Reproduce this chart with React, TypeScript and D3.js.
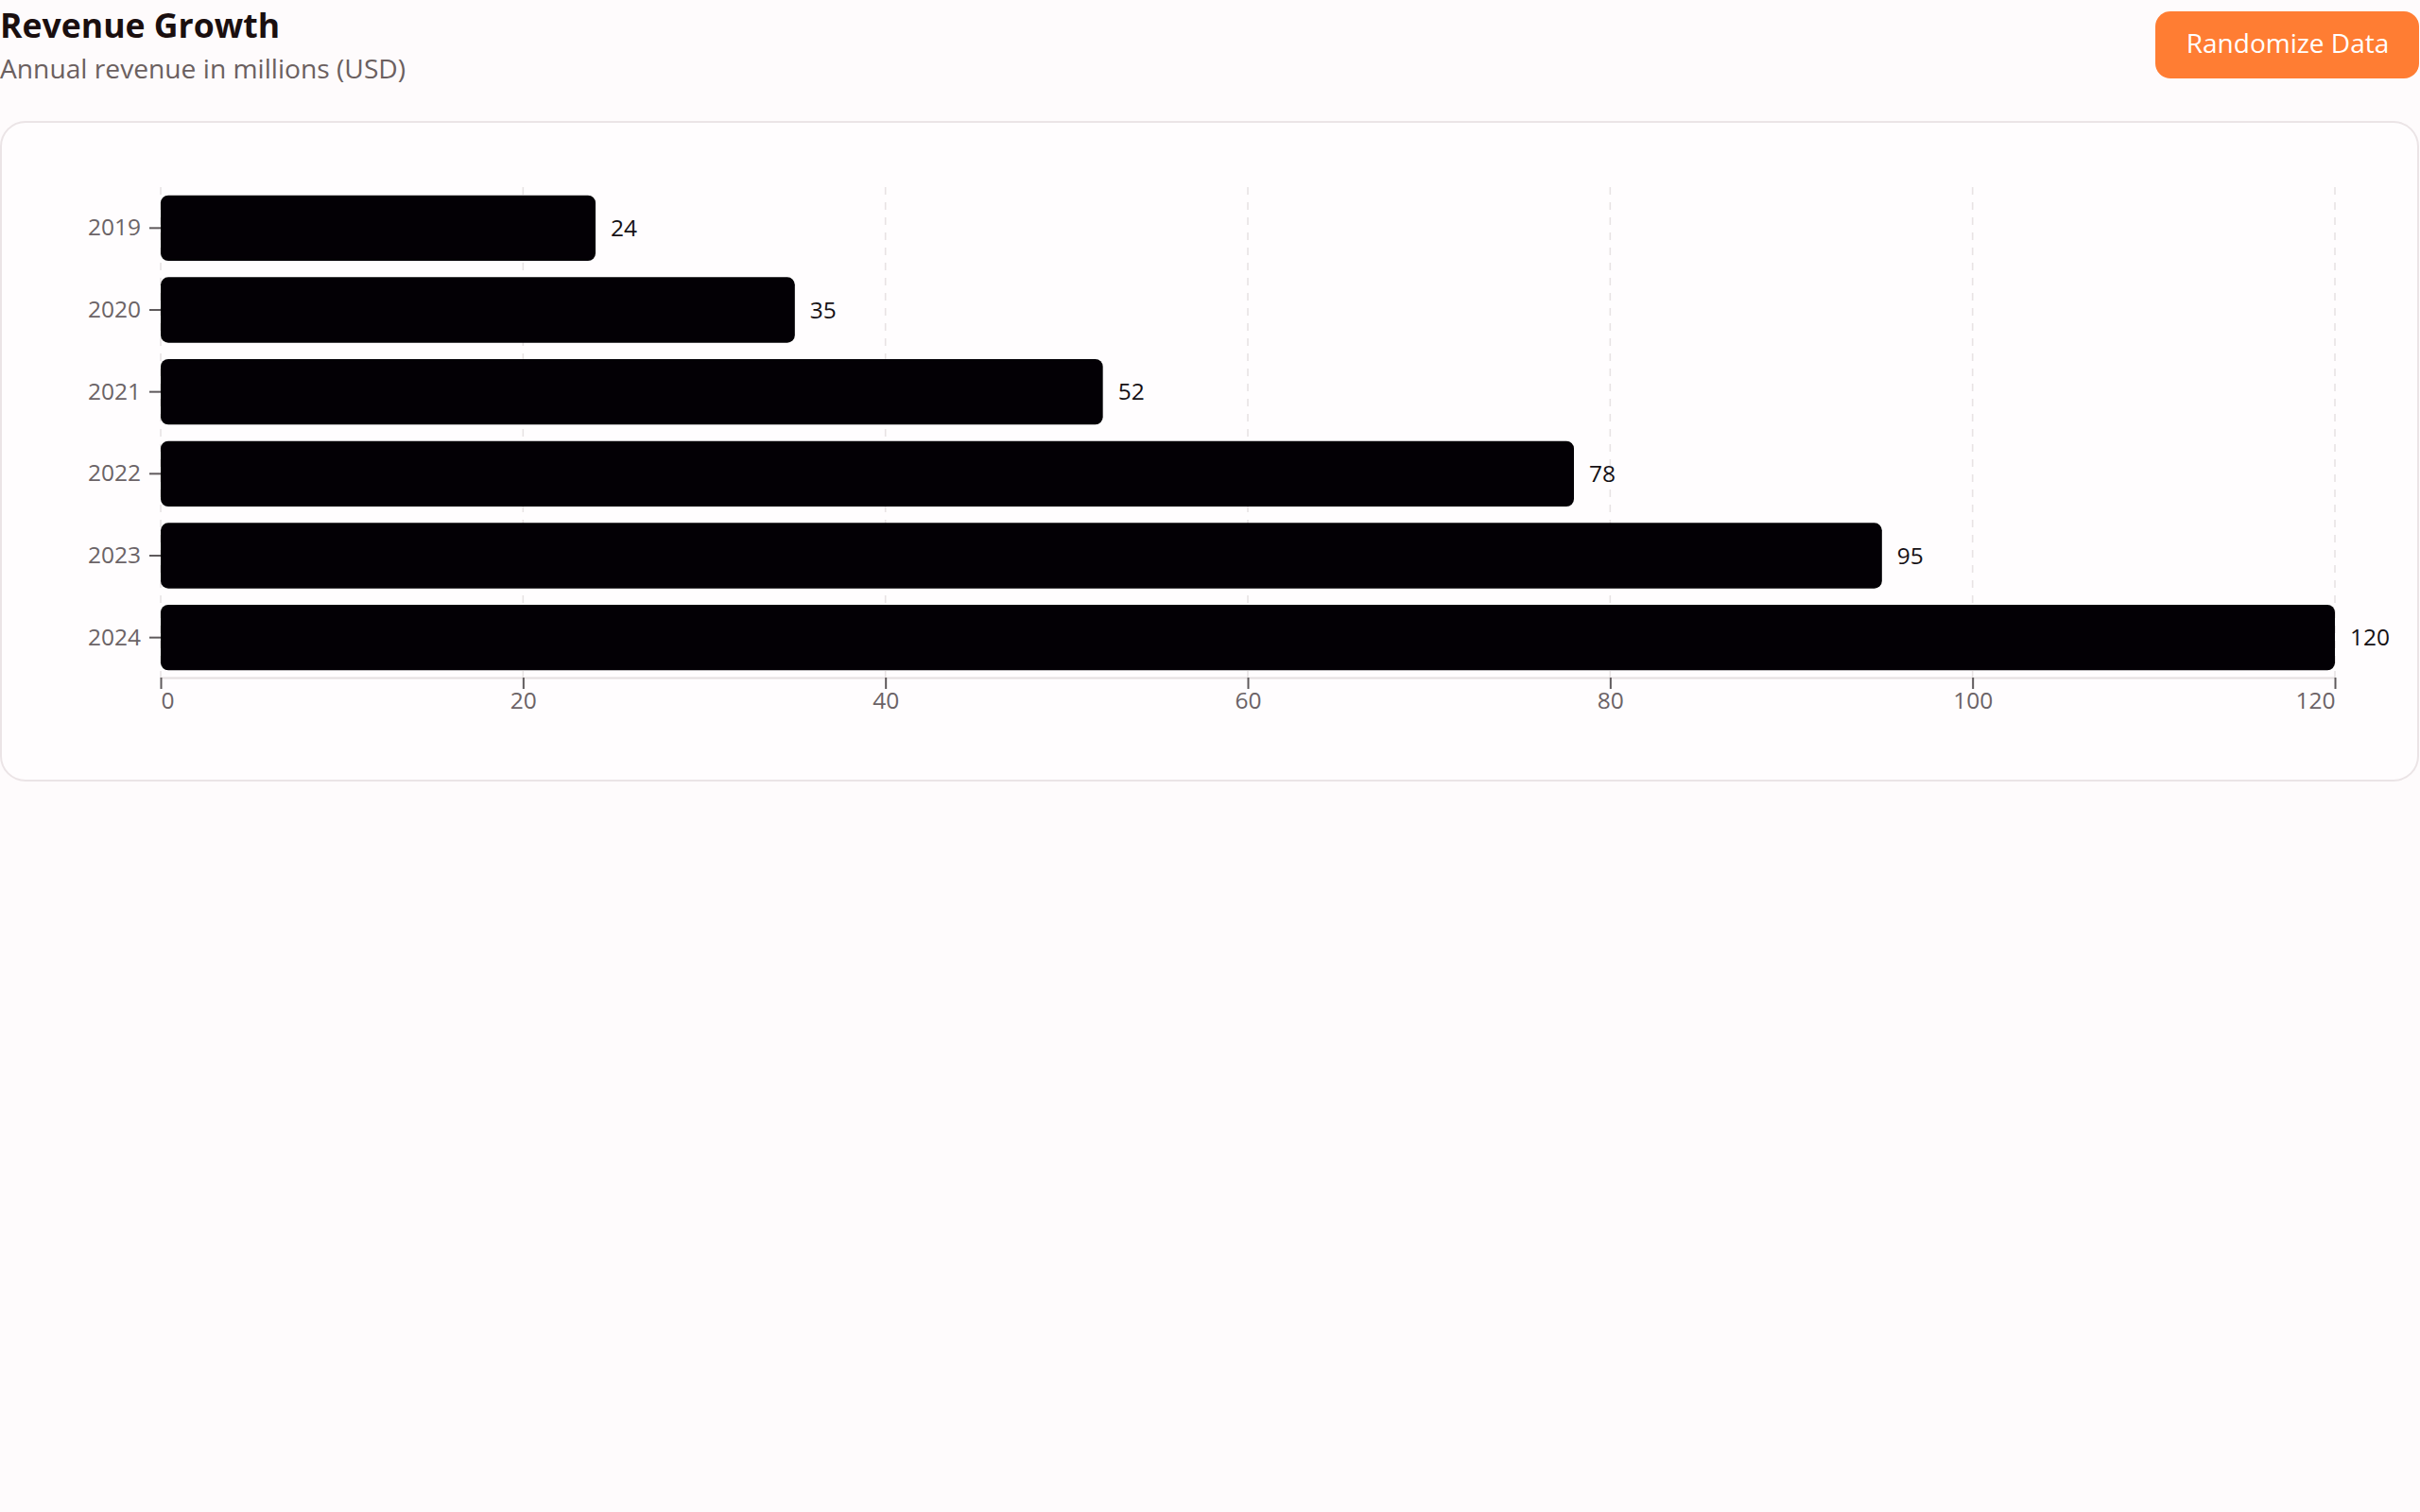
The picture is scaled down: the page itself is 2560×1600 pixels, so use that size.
import React, { useRef, useEffect } from 'react';
import * as d3 from 'd3';

const title = 'Revenue Growth';
const subtitle = 'Annual revenue in millions (USD)';
const buttonLabel = 'Randomize Data';

const years = ['2019', '2020', '2021', '2022', '2023', '2024'];
const revenue = [24, 35, 52, 78, 95, 120];
const xTicks = [0, 20, 40, 60, 80, 100, 120];

const W = 2560;
const H = 1600;
const FONT = "'Open Sans', 'Noto Sans', sans-serif";

export default function App() {
    const svgRef = useRef(null);

    const margin = { left: 170, right: 90, top: 198, bottom: 882 };
    const plotRight = W - margin.right;
    const plotBottom = H - margin.bottom;

    useEffect(() => {
        document.body.style.margin = '0';
        document.body.style.background = '#fefbfc';
        if (!svgRef.current) {
            return;
        }
        const svg = d3.select(svgRef.current);
        svg.selectAll('*').remove();

        /* page header */
        svg.append('rect')
            .attr('width', W).attr('height', H)
            .attr('fill', '#fefbfc');
        svg.append('text')
            .attr('x', 0).attr('y', 40)
            .attr('font-size', 35.6).attr('font-weight', 700)
            .attr('fill', '#1a0f0f')
            .text(title);
        svg.append('text')
            .attr('x', 0).attr('y', 83)
            .attr('font-size', 28.2)
            .attr('fill', '#6b6060')
            .text(subtitle);

        const btn = svg.append('g').style('cursor', 'pointer');
        btn.append('rect')
            .attr('x', 2280).attr('y', 12)
            .attr('width', 279).attr('height', 71)
            .attr('rx', 16)
            .attr('fill', '#ff7d33');
        btn.append('text')
            .attr('x', 2420).attr('y', 56)
            .attr('text-anchor', 'middle')
            .attr('font-size', 28)
            .attr('fill', '#ffffff')
            .text(buttonLabel);

        /* card */
        svg.append('rect')
            .attr('x', 1).attr('y', 129)
            .attr('width', W - 3).attr('height', 697)
            .attr('rx', 26)
            .attr('fill', '#fffdfe')
            .attr('stroke', '#ebe4e6')
            .attr('stroke-width', 2);

        /* scales */
        const xScale = d3.scaleLinear()
            .domain([0, d3.max(xTicks) as number])
            .range([margin.left, plotRight]);
        const yScale = d3.scaleBand()
            .domain(years)
            .range([margin.top, plotBottom])
            .paddingInner(0.2)
            .paddingOuter(0.1);

        /* dashed vertical grid */
        svg.append('g')
            .selectAll('line').data(xTicks)
            .enter()
            .append('line')
                .attr('x1', d => xScale(d))
                .attr('x2', d => xScale(d))
                .attr('y1', margin.top)
                .attr('y2', plotBottom)
                .attr('stroke', '#e8e3e4')
                .attr('stroke-width', 1.6)
                .attr('stroke-dasharray', '8,8');

        /* bars */
        const data = years.map((y, i) => ({ year: y, value: revenue[i] }));
        svg.append('g')
            .selectAll('rect').data(data)
            .enter()
            .append('rect')
                .attr('x', xScale(0))
                .attr('y', d => yScale(d.year) as number)
                .attr('width', d => xScale(d.value) - xScale(0))
                .attr('height', yScale.bandwidth())
                .attr('rx', 8)
                .attr('fill', '#030005');

        /* value labels */
        svg.append('g')
            .selectAll('text').data(data)
            .enter()
            .append('text')
                .attr('x', d => xScale(d.value) + 16)
                .attr('y', d => (yScale(d.year) as number) + yScale.bandwidth() / 2)
                .attr('dy', '0.35em')
                .attr('font-size', 24.5)
                .attr('fill', '#141014')
                .text(d => d.value);

        /* axes */
        const xAxis = d3.axisBottom(xScale)
            .tickValues(xTicks)
            .tickSize(12)
            .tickSizeOuter(0)
            .tickPadding(4);
        const gx = svg.append('g')
            .attr('transform', 'translate(0,' + (plotBottom - 1) + ')')
            .call(xAxis);
        gx.attr('font-family', FONT).attr('font-size', 24.5);
        gx.select('.domain').attr('stroke', '#e4dfe0').attr('stroke-width', 2);
        gx.selectAll('.tick line').attr('stroke', '#5f5a5c').attr('stroke-width', 2);
        gx.selectAll('.tick text')
            .attr('fill', '#6b6366')
            .attr('text-anchor', (d, i) => (i === 0 ? 'start' : i === xTicks.length - 1 ? 'end' : 'middle'));

        const yAxis = d3.axisLeft(yScale)
            .tickSize(12)
            .tickPadding(9);
        const gy = svg.append('g')
            .attr('transform', 'translate(' + margin.left + ',0)')
            .call(yAxis);
        gy.attr('font-family', FONT).attr('font-size', 24.5);
        gy.select('.domain').remove();
        gy.selectAll('.tick line').attr('stroke', '#5f5a5c').attr('stroke-width', 2);
        gy.selectAll('.tick text').attr('fill', '#6b6366');
    }, []);

    return (
        <svg
            ref={svgRef}
            width={W}
            height={H}
            style={{ display: 'block', fontFamily: FONT }}
        />
    );
}
